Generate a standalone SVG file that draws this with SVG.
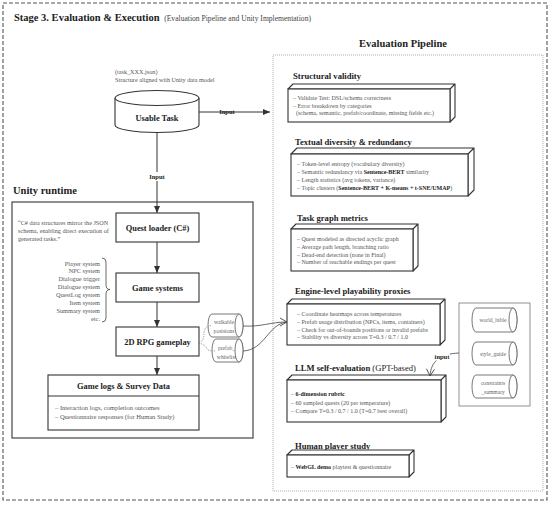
<svg xmlns="http://www.w3.org/2000/svg" width="550" height="505" viewBox="0 0 550 505">
<defs>
<marker id="ah" markerWidth="8" markerHeight="8" refX="7" refY="4" orient="auto" markerUnits="userSpaceOnUse">
<path d="M0,1 L7,4 L0,7 Z" fill="#333"/>
</marker>
<marker id="ov" markerWidth="10" markerHeight="10" refX="8" refY="5" orient="auto" markerUnits="userSpaceOnUse">
<path d="M1,1 L8,5 L1,9" fill="none" stroke="#444" stroke-width="0.9"/>
</marker>
</defs>
<style>
text{font-family:"Liberation Serif","Times New Roman",serif;fill:#222}
.t{font-size:10.5px;font-weight:bold}
.st{font-size:7.6px;fill:#444}
.h{font-size:8.6px;font-weight:bold}
.n{font-size:8.4px;font-weight:bold;text-anchor:middle}
.b{font-size:6px;fill:#555}
.b b,.bb{font-weight:bold;fill:#222}
.q{font-size:6.2px;fill:#555}
.ls{font-size:6.3px;fill:#555;text-anchor:end}
.g{font-size:6.5px;fill:#555}
.c{font-size:5.6px;fill:#666;text-anchor:middle}
.lab{font-size:6.5px;font-weight:bold;text-anchor:middle}
.box{fill:#fff;stroke:#333;stroke-width:1.1}
.face{fill:#fff;stroke:#333;stroke-width:1.1;stroke-linejoin:round}
.cyl{fill:#fff;stroke:#555;stroke-width:0.8}
.con{fill:none;stroke:#333;stroke-width:1}
</style>

<rect x="3" y="3" width="544" height="497" fill="none" stroke="#555" stroke-width="1.1" stroke-dasharray="4,2"/>
<text class="t" x="14" y="21">Stage 3. Evaluation &amp; Execution <tspan class="st" font-weight="normal" dx="2">(Evaluation Pipeline and Unity Implementation)</tspan></text>

<text class="t" x="403" y="47" text-anchor="middle" font-size="11px">Evaluation Pipeline</text>
<rect x="273" y="55" width="270" height="436" fill="none" stroke="#999" stroke-width="0.8" stroke-dasharray="1,1"/>

<text class="t" x="13" y="194">Unity runtime</text>
<rect x="12" y="202" width="241" height="236" fill="none" stroke="#333" stroke-width="1.1"/>

<g id="usable-task">
<text class="q" x="115" y="74">(task_XXX.json)</text>
<text class="q" x="115" y="82">Structure aligned with Unity data model</text>
<path class="box" d="M115,98 L115,125 A42,7.5 0 0 0 199,125 L199,98"/>
<ellipse class="box" cx="157" cy="98" rx="42" ry="7.5"/>
<text class="n" x="157" y="121">Usable Task</text>
</g>

<g id="quest-loader">
<rect class="box" x="116" y="213" width="83" height="29"/>
<text class="n" x="157.5" y="231">Quest loader (C#)</text>
<text class="q" x="18" y="225">“C# data structures mirror the JSON</text>
<text class="q" x="18" y="233">schema, enabling direct execution of</text>
<text class="q" x="18" y="240.5">generated tasks.”</text>
</g>

<g id="game-systems">
<rect class="box" x="116" y="273" width="83" height="29"/>
<text class="n" x="157.5" y="291">Game systems</text>
<path d="M102,258 Q106,258 106,262 L106,285 Q106,289.5 110,289.5 Q106,289.5 106,294 L106,318 Q106,322 102,322" fill="none" stroke="#444" stroke-width="0.8"/>
<text class="ls" x="100" y="265.5">Player system</text>
<text class="ls" x="100" y="273.4">NPC system</text>
<text class="ls" x="100" y="281.3">Dialogue trigger</text>
<text class="ls" x="100" y="289.2">Dialogue system</text>
<text class="ls" x="100" y="297.1">QuestLog system</text>
<text class="ls" x="100" y="305">Item system</text>
<text class="ls" x="100" y="312.9">Summary system</text>
<text class="ls" x="100" y="320.8">etc.</text>
</g>

<g id="rpg-gameplay">
<rect class="box" x="116" y="327" width="83" height="29"/>
<text class="n" x="157.5" y="345">2D RPG gameplay</text>
</g>

<g id="game-logs">
<rect class="box" x="48" y="375" width="151" height="55"/>
<line x1="48" y1="396" x2="199" y2="396" stroke="#333" stroke-width="1"/>
<text class="n" x="123.5" y="389">Game logs &amp; Survey Data</text>
<text class="g" x="55" y="410">– Interaction logs, completion outcomes</text>
<text class="g" x="55" y="419">– Questionnaire responses (for Human Study)</text>
</g>

<g id="walkable">
<path class="cyl" d="M212,314 L239,314 A4,11.5 0 0 1 239,337 L212,337 A4,11.5 0 0 1 212,314 Z"/>
<ellipse class="cyl" cx="239" cy="325.5" rx="4" ry="11.5"/>
<text class="c" x="224" y="323.5">walkable</text>
<text class="c" x="224" y="332.5">posisions</text>
</g>
<g id="prefab">
<path class="cyl" d="M216,339 L239,339 A4,11.5 0 0 1 239,362 L216,362 A4,11.5 0 0 1 216,339 Z"/>
<ellipse class="cyl" cx="239" cy="350.5" rx="4" ry="11.5"/>
<text class="c" x="226.5" y="349.5">prefab_</text>
<text class="c" x="226.5" y="358.5">whitelist</text>
</g>

<g id="structural-validity">
<text class="h" x="293" y="79">Structural validity</text>
<path class="face" d="M288,89 L293,84 L455,84 L450,89 Z M450,89 L455,84 L455,117 L450,122 Z"/>
<rect class="box" x="288" y="89" width="162" height="33"/>
<text class="b" x="293" y="100">– Validate Test:  DSL/schema correctness</text>
<text class="b" x="293" y="107.5">– Error breakdown by categories</text>
<text class="b" x="296" y="115">(schema, semantic, prefab/coordinate, missing fields etc.)</text>
</g>

<g id="textual-diversity">
<text class="h" x="295" y="145">Textual diversity &amp; redundancy</text>
<path class="face" d="M291,154 L297,148 L474,148 L468,154 Z M468,154 L474,148 L474,190 L468,196 Z"/>
<rect class="box" x="291" y="154" width="177" height="42"/>
<text class="b" x="297" y="166">– Token-level entropy (vocabulary diversity)</text>
<text class="b" x="297" y="174">– Semantic redundancy via <tspan class="bb">Sentence-BERT</tspan> similarity</text>
<text class="b" x="297" y="182">– Length statistics (avg tokens, variance)</text>
<text class="b" x="297" y="190">– Topic clusters (<tspan class="bb">Sentence-BERT + K-means + t-SNE/UMAP</tspan>)</text>
</g>

<g id="task-graph">
<text class="h" x="297" y="221">Task graph metrics</text>
<path class="face" d="M291,229 L296,224 L418,224 L413,229 Z M413,229 L418,224 L418,266 L413,271 Z"/>
<rect class="box" x="291" y="229" width="122" height="42"/>
<text class="b" x="297" y="241">– Quest modeled as directed acyclic graph</text>
<text class="b" x="297" y="249">– Average path length, branching ratio</text>
<text class="b" x="297" y="256.5">– Dead-end detection (none in Final)</text>
<text class="b" x="297" y="264">– Number of reachable endings per quest</text>
</g>

<g id="engine-level">
<text class="h" x="295" y="294">Engine-level playability proxies</text>
<path class="face" d="M287,304 L292,299 L445,299 L440,304 Z M440,304 L445,299 L445,340 L440,345 Z"/>
<rect class="box" x="287" y="304" width="153" height="41"/>
<text class="b" x="297" y="316">– Coordinate heatmaps across temperatures</text>
<text class="b" x="297" y="324">– Prefab usage distribution (NPCs, items, containers)</text>
<text class="b" x="297" y="331.5">– Check for out-of-bounds positions or invalid prefabs</text>
<text class="b" x="297" y="339">– Stability vs diversity across T=0.3 / 0.7 / 1.0</text>
</g>

<g id="llm-self-eval">
<text class="h" x="295" y="371">LLM self-evaluation <tspan font-weight="normal">(GPT-based)</tspan></text>
<path class="face" d="M287,380 L292,375 L446,375 L441,380 Z M441,380 L446,375 L446,417 L441,422 Z"/>
<rect class="box" x="287" y="380" width="154" height="42"/>
<text class="b" x="291" y="396">– <tspan class="bb">6-dimension rubric</tspan></text>
<text class="b" x="291" y="404.5">– 60 sampled quests (20 per temperature)</text>
<text class="b" x="291" y="413">– Compare T=0.3 / 0.7 / 1.0 (T=0.7 best overall)</text>
</g>

<g id="human-study">
<text class="h" x="295" y="449">Human player study</text>
<path class="face" d="M287,455 L292,450 L414,450 L409,455 Z M409,455 L414,450 L414,472 L409,477 Z"/>
<rect class="box" x="287" y="455" width="122" height="22"/>
<text class="b" x="291" y="469">– <tspan class="bb">WebGL demo</tspan> playtest &amp; questionnaire</text>
</g>

<g id="resources">
<rect x="459" y="303" width="71" height="103" fill="none" stroke="#777" stroke-width="0.8"/>
<path class="cyl" d="M476,308 L513,308 A4,12 0 0 1 513,332 L476,332 A4,12 0 0 1 476,308 Z"/>
<ellipse class="cyl" cx="513" cy="320" rx="4" ry="12"/>
<text class="c" x="493" y="322">world_bible</text>
<path class="cyl" d="M476,342 L513,342 A4,11.5 0 0 1 513,365 L476,365 A4,11.5 0 0 1 476,342 Z"/>
<ellipse class="cyl" cx="513" cy="353.5" rx="4" ry="11.5"/>
<text class="c" x="493" y="355.5">style_guide</text>
<path class="cyl" d="M476,375 L513,375 A4,11.5 0 0 1 513,398 L476,398 A4,11.5 0 0 1 476,375 Z"/>
<ellipse class="cyl" cx="513" cy="386.5" rx="4" ry="11.5"/>
<text class="c" x="493" y="384.5">constraints</text>
<text class="c" x="493" y="393.5">_summary</text>
</g>

<g id="connectors">
<line class="con" x1="199" y1="112" x2="270" y2="112" marker-end="url(#ah)"/>
<text class="lab" x="227" y="114">Input</text>
<line class="con" x1="157" y1="132" x2="157" y2="213" marker-end="url(#ah)"/>
<rect x="147" y="172" width="20" height="9" fill="#fff"/>
<text class="lab" x="157" y="179">Input</text>
<line class="con" x1="157" y1="242" x2="157" y2="273" marker-end="url(#ah)"/>
<line class="con" x1="157" y1="302" x2="157" y2="327" marker-end="url(#ah)"/>
<line class="con" x1="157" y1="356" x2="157" y2="375" marker-end="url(#ah)"/>
<path d="M199,343 Q204,341 204,333 Q204,326 212,325.5 M199,343 Q206,345 207,349 Q208,351 216,351" fill="none" stroke="#777" stroke-width="0.8" stroke-dasharray="1,1"/>
<path d="M243,326 C262,327 270,322 287,322" fill="none" stroke="#444" stroke-width="0.8" marker-end="url(#ov)"/>
<path d="M243,351 C265,350 268,324 287,322" fill="none" stroke="#444" stroke-width="0.8"/>
<path d="M459,353 C440,354 431,361 430,376" fill="none" stroke="#444" stroke-width="0.8" marker-end="url(#ov)"/>
<rect x="434" y="353.5" width="16" height="7" fill="#fff"/>
<text class="lab" x="442" y="359" font-size="5.5px">input</text>
</g>
</svg>
